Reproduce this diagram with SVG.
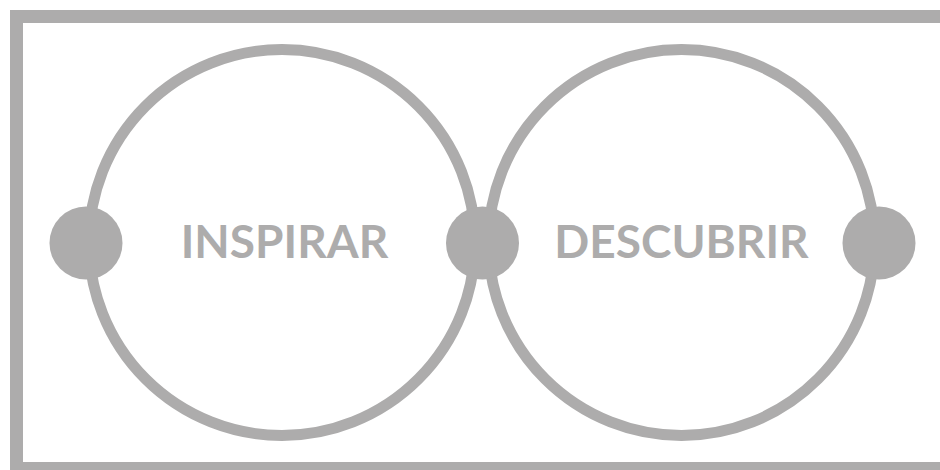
<svg xmlns="http://www.w3.org/2000/svg" width="940" height="470" viewBox="0 0 940 470">
<style>
.frame{fill:none;stroke:#adacac;stroke-width:13}
.ring{fill:none;stroke:#adacac;stroke-width:11}
.dot{fill:#adacac}
.lbl{font-family:Lato,"Liberation Sans",sans-serif;font-weight:bold;font-size:46px;fill:#adacac;text-anchor:middle}
</style>
<rect width="940" height="470" fill="#fff"/>
<rect class="frame" x="16.5" y="16.5" width="940" height="452"/>
<g id="inspirar">
<circle class="ring" cx="282" cy="242.5" r="193"/>
<text class="lbl" x="284.5" y="258">INSPIRAR</text>
</g>
<g id="descubrir">
<circle class="ring" cx="681.5" cy="242.5" r="193"/>
<text class="lbl" x="681.5" y="258">DESCUBRIR</text>
</g>
<g id="connectors">
<circle class="dot" cx="86" cy="243" r="36.5"/>
<circle class="dot" cx="482.5" cy="243" r="36.5"/>
<circle class="dot" cx="879" cy="243" r="36.5"/>
</g>
</svg>
